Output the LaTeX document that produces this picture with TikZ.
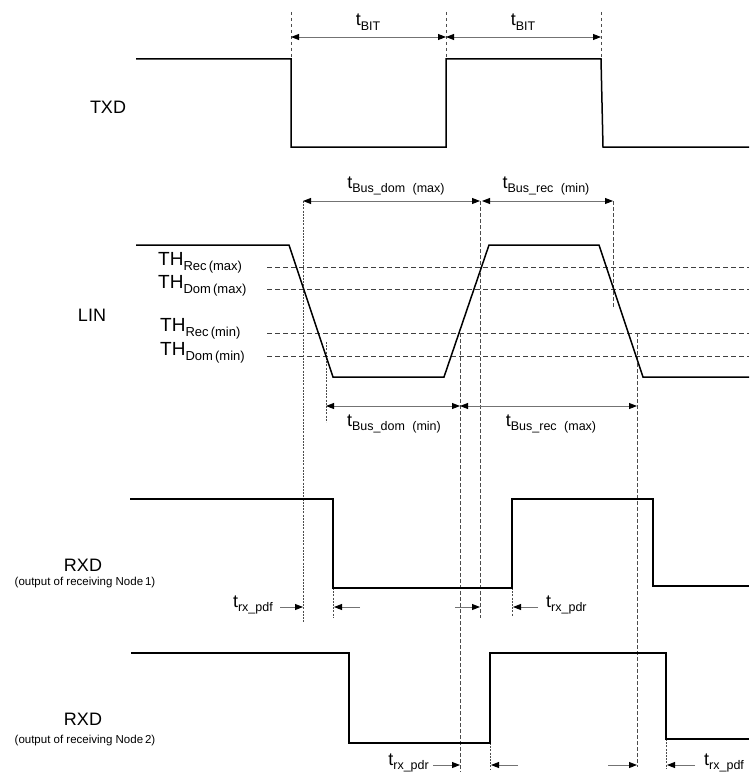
\documentclass[tikz,border=0pt]{standalone}
\usepackage{fontspec}
\setmainfont{Liberation Sans}
\usetikzlibrary{arrows.meta}
\newcommand{\tsb}[1]{{\fontsize{18}{20}\selectfont t}\raisebox{-4.5pt}{\fontsize{12.5}{14}\selectfont #1}}
\newcommand{\thsb}[1]{{\fontsize{19}{20}\selectfont TH}\raisebox{-5pt}{\fontsize{13}{14}\selectfont #1}}
\begin{document}
\begin{tikzpicture}[x=1pt,y=-1pt,
 sig/.style={line width=1.5pt, line join=miter},
 thr/.style={line width=0.9pt, dash pattern=on 5pt off 3pt, black!75},
 guide/.style={line width=0.9pt, dash pattern=on 3.5pt off 2.5pt, black!70},
 fine/.style={line width=0.8pt, dash pattern=on 2pt off 1.2pt, black!70},
 dim/.style={line width=0.9pt, black!55, {Triangle[length=8pt,width=6pt,color=black]}-{Triangle[length=8pt,width=6pt,color=black]}},
 ptr/.style={line width=0.9pt, black!55, -{Triangle[length=8pt,width=6pt,color=black]}},
 lbl/.style={inner sep=0pt, font=\fontsize{18}{20}\selectfont},
 sublbl/.style={inner sep=0pt, font=\fontsize{11.5}{13}\selectfont},
 tlbl/.style={inner sep=0pt}
]
\useasboundingbox (0,0) rectangle (749,781);

% ---------- signal labels
\node[lbl] (txd) at (108,107) {TXD};
\node[lbl] (lin) at (92,315) {LIN};
\node[lbl] (rxd1) at (83,565) {RXD};
\node[sublbl] (rxd1s) at (85,583) {(output of receiving Node\,1)};
\node[lbl] (rxd2) at (83,719) {RXD};
\node[sublbl] (rxd2s) at (85,741) {(output of receiving Node\,2)};

% ---------- threshold lines and labels
\foreach \yy in {267,289,333,356} \draw[thr] (267,\yy) -- (749,\yy);
\node[tlbl, anchor=base west] (threcmax) at (158,265) {\thsb{Rec\,(max)}};
\node[tlbl, anchor=base west] (thdommax) at (158,288) {\thsb{Dom\,(max)}};
\node[tlbl, anchor=base west] (threcmin) at (160,331) {\thsb{Rec\,(min)}};
\node[tlbl, anchor=base west] (thdommin) at (160,355) {\thsb{Dom\,(min)}};

% ---------- TXD guides and t_BIT
\coordinate (b0) at (291,37); \coordinate (b1) at (446,37); \coordinate (b2) at (601,37);
\draw[guide] (291,12) -- (291,59);
\draw[guide] (446,12) -- (446,59);
\draw[guide] (601,12) -- (601,59);
\draw[dim] (b0) -- (b1);
\draw[dim] (b1) -- (b2);
\node[tlbl] (tbit1) at (368,22) {\tsb{BIT}};
\node[tlbl] (tbit2) at (523,22) {\tsb{BIT}};

% ---------- vertical guides
\draw[fine] (303,201) -- (303,622);
\draw[fine] (326,342) -- (326,422);
\draw[guide] (460,333) -- (460,772);
\draw[guide] (480,201) -- (480,618);
\draw[guide] (613,201) -- (613,307);
\draw[guide] (637,333) -- (637,767);
\draw[fine] (333,588) -- (333,618);
\draw[fine] (512,588) -- (512,616);
\draw[fine] (490,743) -- (490,770);
\draw[fine] (666,739) -- (666,768);

% ---------- LIN dimensions
\coordinate (d0) at (303,201); \coordinate (d1) at (480,201);
\coordinate (d2) at (482,201); \coordinate (d3) at (613,201);
\draw[dim] (d0) -- (d1);
\draw[dim] (d2) -- (d3);
\node[tlbl] (tdommax) at (396,186) {\tsb{Bus\_dom\hspace{4pt} (max)}};
\node[tlbl] (trecmin) at (546,186) {\tsb{Bus\_rec\hspace{4pt} (min)}};
\coordinate (e0) at (326,406); \coordinate (e1) at (460,406); \coordinate (e2) at (637,406);
\draw[dim] (e0) -- (e1);
\draw[dim] (e1) -- (e2);
\node[tlbl] (tdommin) at (394,424) {\tsb{Bus\_dom\hspace{4pt} (min)}};
\node[tlbl] (trecmax) at (551,424) {\tsb{Bus\_rec\hspace{4pt} (max)}};

% ---------- RXD1 delay pointers
\coordinate (p1a) at (280,607); \coordinate (p1b) at (303,607);
\coordinate (p2a) at (360,607); \coordinate (p2b) at (334,607);
\coordinate (p3a) at (455,607); \coordinate (p3b) at (480,607);
\coordinate (p4a) at (538,607); \coordinate (p4b) at (513,607);
\draw[ptr] (p1a) -- (p1b);
\draw[ptr] (p2a) -- (p2b);
\draw[ptr] (p3a) -- (p3b);
\draw[ptr] (p4a) -- (p4b);
\node[tlbl, anchor=east] (trxpdf1) at (273,605) {\tsb{rx\_pdf}};
\node[tlbl, anchor=west] (trxpdr1) at (546,605) {\tsb{rx\_pdr}};

% ---------- RXD2 delay pointers
\coordinate (q1a) at (433,765); \coordinate (q1b) at (460,765);
\coordinate (q2a) at (518,765); \coordinate (q2b) at (491,765);
\coordinate (q3a) at (608,765); \coordinate (q3b) at (637,765);
\coordinate (q4a) at (695,765); \coordinate (q4b) at (667,765);
\draw[ptr] (q1a) -- (q1b);
\draw[ptr] (q2a) -- (q2b);
\draw[ptr] (q3a) -- (q3b);
\draw[ptr] (q4a) -- (q4b);
\node[tlbl, anchor=east] (trxpdr2) at (429,763) {\tsb{rx\_pdr}};
\node[tlbl, anchor=west] (trxpdf2) at (704,763) {\tsb{rx\_pdf}};

% ---------- waveforms
\draw[sig] (136,59) -- (291,59) -- (291,147) -- (446,147) -- (446,59) -- (601,59) -- (603,147) -- (749,147);
\draw[sig] (136,245) -- (289,245) -- (333,377) -- (444,377) -- (489,245) -- (599,245) -- (643,377) -- (749,377);
\draw[sig] (130,499) -- (333,499) -- (333,588) -- (512,588) -- (512,499) -- (653,499) -- (653,586) -- (749,586);
\draw[sig] (131,653) -- (349,653) -- (349,743) -- (490,743) -- (490,653) -- (666,653) -- (666,739) -- (749,739);
\end{tikzpicture}
\end{document}
